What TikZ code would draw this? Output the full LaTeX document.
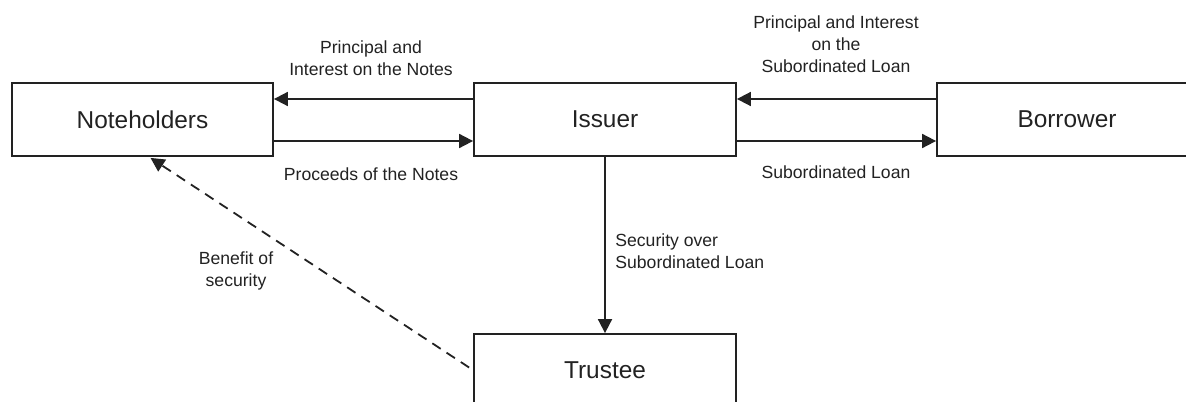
\documentclass[tikz,border=0pt]{standalone}
\usepackage{fontspec}
\setmainfont{Liberation Sans}
\usetikzlibrary{arrows.meta}
\definecolor{ink}{HTML}{222222}
\tikzset{
  entity/.style={draw=ink, line width=0.9pt, minimum height=36.5pt, inner sep=0pt, font=\fontsize{12.2}{14}\selectfont, text=ink},
  flow/.style={draw=ink, line width=0.9pt, -{Triangle[length=7pt,width=7pt]}},
  dflow/.style={flow, dash pattern=on 5pt off 3.5pt},
  lbl/.style={font=\fontsize{8.8}{11}\selectfont, text=ink, align=center, inner sep=0pt}
}
\begin{document}
\begin{tikzpicture}[x=0.5pt,y=-0.5pt]
\useasboundingbox (0,0) rectangle (1186,401);
\node[entity, minimum width=130.5pt] (note) at (142.5,119.5) {Noteholders};
\node[entity, minimum width=131pt] (issuer) at (605,119.5) {Issuer};
\node[entity, minimum width=130pt] (borrower) at (1067,119.5) {Borrower};
\node[entity, minimum width=131pt] (trustee) at (605,370.5) {Trustee};

\draw[flow] ([yshift=10.25pt]issuer.west) -- ([yshift=10.25pt]note.east);
\draw[flow] ([yshift=-10.75pt]note.east) -- ([yshift=-10.75pt]issuer.west);
\draw[flow] ([yshift=10.25pt]borrower.west) -- ([yshift=10.25pt]issuer.east);
\draw[flow] ([yshift=-10.75pt]issuer.east) -- ([yshift=-10.75pt]borrower.west);
\draw[flow] (issuer.south) -- (trustee.north);
\draw[dflow] ([xshift=-2pt,yshift=1.5pt]trustee.west) -- ([xshift=4pt,yshift=-0.5pt]note.south);

\node[lbl] (l1) at (371,58) {Principal and\\Interest on the Notes};
\node[lbl] (l2) at (371,174) {Proceeds of the Notes};
\node[lbl] (l3) at (836,44) {Principal and Interest\\on the\\Subordinated Loan};
\node[lbl] (l4) at (836,172) {Subordinated Loan};
\node[lbl, anchor=west, align=left] (l5) at (615,251.5) {Security over\\Subordinated Loan};
\node[lbl] (l6) at (236,270.5) {Benefit of\\security};
\end{tikzpicture}
\end{document}
